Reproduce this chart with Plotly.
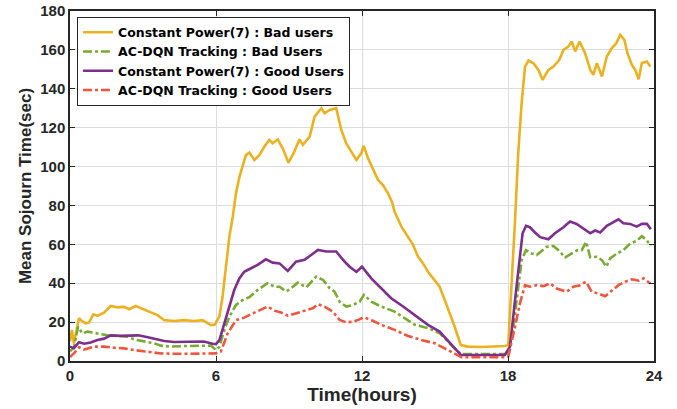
import plotly.graph_objects as go

# ---- data ----
t_yb = [0.0, 0.08, 0.16, 0.37, 0.51, 0.65, 0.78, 0.96, 1.13, 1.40, 1.67, 1.95, 2.22, 2.43, 2.70, 3.05, 3.32, 3.60, 3.87, 4.28, 4.70, 5.10, 5.45, 5.79, 5.95,
        6.14, 6.27, 6.41, 6.55, 6.69, 6.82, 6.96, 7.10, 7.23, 7.37, 7.58, 7.78, 7.99, 8.19, 8.33, 8.54, 8.74, 8.98, 9.22, 9.43, 9.57, 9.85, 10.05, 10.33, 10.46, 10.67, 10.94, 11.15, 11.35, 11.56, 11.77, 11.97,
        12.07, 12.25, 12.45, 12.66, 12.86, 13.07, 13.23, 13.34, 13.62, 13.89, 14.10, 14.30, 14.51, 14.71, 14.99, 15.19, 15.40, 15.61, 15.81, 16.06, 16.36, 16.91, 17.46, 17.87, 18.01,
        18.15, 18.29, 18.42, 18.56, 18.70, 18.84, 19.04, 19.25, 19.42, 19.66, 19.87, 20.11, 20.28, 20.48, 20.62, 20.76, 20.94, 21.17, 21.38, 21.51, 21.65, 21.86, 22.06, 22.27, 22.45, 22.61, 22.78, 22.91, 23.09, 23.23, 23.37, 23.50, 23.71, 23.85]
v_yb = [10, 16, 9, 22, 20.3, 19.4, 19.8, 24, 23.2, 24.9, 28.3, 27.6, 27.8, 26.6, 28.3, 26.2, 25, 23.6, 21, 20.6, 21, 20.6, 21, 18.5, 18.8,
        22.9, 33, 48.5, 64, 74.3, 86.2, 94.6, 99.9, 105.9, 107.2, 103.4, 105.9, 110.3, 113.7, 112, 114, 109.4, 102, 107.7, 114, 111.2, 115.4, 125.7, 130, 127.4, 129.1, 130, 118.8, 112, 107.7, 103.4, 106.8,
        110.6, 104.2, 99.1, 93.1, 90.5, 86.2, 81.9, 76.8, 69.1, 63.9, 59.7, 53.7, 50.2, 45.9, 41.6, 38.2, 31.4, 24.5, 17.6, 8.2, 7.4, 7.2, 7.4, 7.7, 8.2,
        38.2, 72.5, 106.8, 132.6, 151.4, 154.5, 153.2, 149.7, 144.6, 149.7, 151.4, 154.9, 160, 161.7, 164.3, 159.2, 164.3, 158.3, 149.7, 147.2, 153.2, 146.3, 156.6, 160.9, 163.4, 167.7, 165.2, 158.3, 152.3, 149.7, 144.9, 153.2, 154, 151.4]

t_gb = [0.0, 0.16, 0.33, 0.51, 0.72, 0.99, 1.26, 1.54, 1.95, 2.36, 2.64, 3.05, 3.46, 3.74, 4.15, 4.70, 5.24, 5.79, 6.0,
        6.14, 6.34, 6.55, 6.82, 7.10, 7.37, 7.71, 8.12, 8.40, 8.61, 8.88, 9.09, 9.36, 9.71, 9.91, 10.12, 10.40, 10.67, 10.87, 11.08, 11.35, 11.63, 11.90,
        12.08, 12.38, 12.79, 13.34, 13.75, 14.17, 14.71, 15.19, 15.67, 16.06, 17.87, 18.01,
        18.22, 18.42, 18.56, 18.74, 18.97, 19.18, 19.38, 19.59, 19.87, 20.07, 20.35, 20.62, 20.86, 21.03, 21.21, 21.38, 21.65, 21.86, 22.04, 22.20, 22.48, 22.74, 23.02, 23.29, 23.50, 23.71, 23.85]
v_gb = [5, 7, 17.6, 14.2, 15.1, 14.6, 13.9, 13.2, 12.9, 12.5, 11.1, 10, 9.1, 7.9, 7.4, 7.7, 7.9, 7.9, 5.6,
        7.3, 15.9, 22.8, 28.8, 31.4, 32.8, 36.5, 40, 38.2, 38.2, 35.7, 37.4, 40.3, 37.9, 40.8, 43.4, 41.7, 37.4, 35.7, 30.5, 28, 28.8, 30.5,
        34, 30.5, 28, 25.4, 22, 18.6, 16.9, 14.3, 8.2, 3.6, 3.6, 4,
        17.6, 38.2, 51.9, 57, 55.3, 54.5, 56.7, 58.7, 59.1, 57, 53.3, 55.3, 57, 57, 61.3, 53.3, 53.6, 51.9, 48.5, 52.8, 55.3, 57, 60.4, 61.8, 64.2, 62.1, 59.1]

t_pg = [0.0, 0.16, 0.37, 0.58, 0.85, 1.13, 1.40, 1.67, 2.09, 2.50, 2.80, 3.20, 3.60, 3.87, 4.28, 4.97, 5.50, 5.86, 6.0,
        6.14, 6.34, 6.55, 6.75, 6.96, 7.16, 7.44, 7.71, 8.05, 8.33, 8.61, 8.95, 9.29, 9.64, 9.91, 10.19, 10.53, 10.94, 11.22, 11.49, 11.77,
        12.0, 12.38, 12.79, 13.20, 13.69, 14.17, 14.71, 15.19, 15.67, 16.06, 17.87, 18.08,
        18.35, 18.60, 18.74, 18.90, 19.11, 19.32, 19.66, 19.93, 20.28, 20.55, 20.82, 21.10, 21.38, 21.58, 21.79, 22.06, 22.33, 22.54, 22.74, 23.02, 23.29, 23.50, 23.71, 23.87]
v_pg = [7.4, 6.6, 9.7, 8.9, 9.5, 10.8, 11.5, 13.2, 12.9, 12.9, 13.2, 12.2, 11.3, 10.3, 9.8, 9.8, 10, 8.9, 8.7,
        10.8, 19.4, 28.8, 36.5, 42.5, 45.9, 47.7, 49.4, 52.3, 50.6, 50.2, 46.3, 51.1, 52, 54.5, 57.1, 56.3, 56.3, 52, 48.5, 45.9,
        48.5, 42.5, 37.4, 32.3, 28, 23.7, 18.6, 15.1, 8.2, 3.1, 3.1, 7.4,
        38.2, 65.7, 69.5, 68.8, 66.1, 63.7, 62.6, 65.7, 68.8, 71.7, 70.5, 68.3, 65.7, 67.1, 66.1, 69.5, 71.2, 72.9, 70.8, 70.5, 69.1, 70.5, 70.5, 67.8]

t_rg = [0.0, 0.16, 0.37, 0.58, 0.99, 1.40, 1.81, 2.22, 2.64, 3.20, 3.74, 4.42, 5.24, 6.0,
        6.20, 6.48, 6.82, 7.16, 7.51, 7.85, 8.12, 8.40, 8.67, 8.95, 9.29, 9.71, 9.98, 10.19, 10.46, 10.80, 11.08, 11.35, 11.63, 11.90,
        12.07, 12.38, 12.79, 13.34, 13.89, 14.44, 14.99, 15.40, 15.81, 16.09, 17.87, 18.01,
        18.29, 18.49, 18.70, 18.90, 19.18, 19.46, 19.73, 20.0, 20.41, 20.69, 20.96, 21.21, 21.44, 21.72, 21.99, 22.27, 22.54, 22.82, 23.09, 23.37, 23.57, 23.85]
v_rg = [2, 3.9, 7, 5.9, 7.4, 7.4, 6.8, 6.5, 5.6, 4.8, 3.9, 3.7, 3.7, 3.9,
        4.9, 14.2, 21, 22.3, 24.5, 26.6, 28, 25.9, 24.9, 23.3, 24.5, 25.9, 27.1, 29.2, 28, 25.4, 21.1, 19.9, 20.2, 21.4,
        22.5, 21.1, 18.6, 16, 12.9, 10.8, 9.1, 6.5, 3.6, 1.9, 1.9, 2.2,
        17.6, 29.6, 39, 38.2, 39, 38.5, 39.9, 37.3, 35.6, 38.2, 39, 40.8, 35.6, 34.7, 33.3, 36.4, 39, 40.8, 42, 41.3, 42.5, 39.9]

names = ["Constant Power(7) : Bad users", "AC-DQN Tracking : Bad Users",
         "Constant Power(7) : Good Users", "AC-DQN Tracking : Good Users"]
x_tickvals = [0, 6, 12, 18, 24]
x_ticktext = ["0", "6", "12", "18", "24"]
y_tickvals = [0, 20, 40, 60, 80, 100, 120, 140, 160, 180]

fig = go.Figure()
series = [(t_yb, v_yb, "#EDB120", "solid"),
          (t_gb, v_gb, "#77AC30", "dashdot"),
          (t_pg, v_pg, "#7E2F8E", "solid"),
          (t_rg, v_rg, "#F2553D", "dashdot")]
for (tx, vy, col, dash), nm in zip(series, names):
    fig.add_trace(go.Scatter(x=tx, y=vy, mode="lines", name=nm,
                             line=dict(color=col, width=2.6, dash=dash)))

fam = "Liberation Sans, Arial, sans-serif"
fnt = dict(family=fam, color="#262626", weight="bold")
fig.update_layout(
    width=677, height=409,
    margin=dict(l=70, r=23, t=11, b=48),
    paper_bgcolor="white", plot_bgcolor="white",
    showlegend=True,
    legend=dict(x=0.012, y=0.984, xanchor="left", yanchor="top",
                bgcolor="white", bordercolor="#262626", borderwidth=1,
                font=dict(family="DejaVu Sans, sans-serif", size=12.5, color="black", weight="bold"),
                tracegroupgap=0, itemwidth=30),
)
fig.update_xaxes(range=[0, 24], tickvals=x_tickvals, ticktext=x_ticktext, automargin=False,
                 ticklabeloverflow="allow",
                 showgrid=True, gridcolor="#DCDCDC", gridwidth=1,
                 showline=True, linecolor="#262626", linewidth=1.5, mirror="ticks",
                 ticks="inside", ticklen=5, tickcolor="#262626", zeroline=False,
                 tickfont=dict(size=15, **fnt),
                 title=dict(text="Time(hours)", font=dict(size=19, **fnt), standoff=4))
fig.update_yaxes(range=[0, 180], tickvals=y_tickvals, automargin=False,
                 ticklabeloverflow="allow",
                 showgrid=True, gridcolor="#DCDCDC", gridwidth=1,
                 showline=True, linecolor="#262626", linewidth=1.5, mirror="ticks",
                 ticks="inside", ticklen=5, tickcolor="#262626", zeroline=False,
                 tickfont=dict(size=15, **fnt),
                 title=dict(text="Mean Sojourn Time(sec)", font=dict(size=17, **fnt), standoff=4))

# remove the page's default 8px body margin so the figure fills the window exactly
fig.write_html("out.html", config={"displayModeBar": False},
               post_script="document.body.style.margin='0';")
